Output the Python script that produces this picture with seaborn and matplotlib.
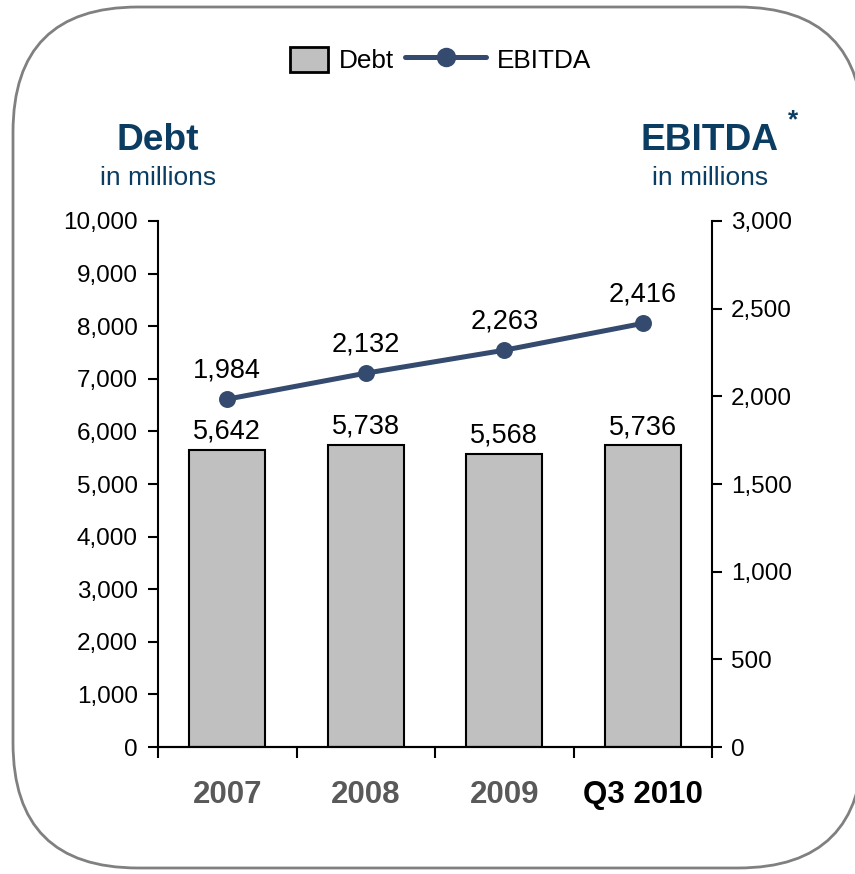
import matplotlib.pyplot as plt
import seaborn as sns
import pandas as pd
from matplotlib.patches import FancyBboxPatch, Patch, Rectangle
from matplotlib.lines import Line2D
from matplotlib.legend_handler import HandlerPatch
from matplotlib.transforms import IdentityTransform
from matplotlib.ticker import FuncFormatter, MultipleLocator

# Данные
categories = ["2007", "2008", "2009", "Q3 2010"]
debt = [5642, 5738, 5568, 5736]
ebitda = [1984, 2132, 2263, 2416]

df = pd.DataFrame({"period": categories, "debt": debt, "ebitda": ebitda})

# Стиль
sns.set_theme(style="white")
plt.rcParams["font.family"] = ["Liberation Sans", "DejaVu Sans"]

BAR_COLOR = "#c0c0c0"
LINE_COLOR = "#344a6e"
TITLE_COLOR = "#0b3d63"

W, H = 855, 874
fig = plt.figure(figsize=(W / 100, H / 100), dpi=100)

# Рамка со скруглёнными углами, в пикселях (начало координат внизу слева)
box = FancyBboxPatch(
    (13, H - 868), 850, 861,
    boxstyle="round,pad=0,rounding_size=125",
    transform=IdentityTransform(), facecolor="white", edgecolor="#808080",
    linewidth=2, zorder=-1,
)
fig.patches.append(box)

ax = fig.add_axes([158 / W, 1 - 747 / H, (712 - 158) / W, (747 - 221) / H])
ax.patch.set_alpha(0)

# Столбцы — долг
sns.barplot(data=df, x="period", y="debt", ax=ax, color=BAR_COLOR,
            width=0.55, edgecolor="black", linewidth=1.5, saturation=1)
ax.set_ylim(0, 10000)
ax.set_xlim(-0.5, 3.5)
ax.yaxis.set_major_locator(MultipleLocator(1000))
ax.yaxis.set_major_formatter(FuncFormatter(lambda v, p: f"{v:,.0f}"))
ax.set_xlabel("")
ax.set_ylabel("")

for i, v in enumerate(debt):
    ax.text(i, v + 100, f"{v:,}", ha="center", va="bottom", fontsize=19.5, color="black")

# Линия — EBITDA
ax2 = ax.twinx()
sns.pointplot(data=df, x="period", y="ebitda", ax=ax2, color=LINE_COLOR,
              markers="o", markersize=9.5, linewidth=3.6)
ax2.set_ylim(0, 3000)
ax2.set_xlim(-0.5, 3.5)
ax2.yaxis.set_major_locator(MultipleLocator(500))
ax2.yaxis.set_major_formatter(FuncFormatter(lambda v, p: f"{v:,.0f}"))
ax2.set_ylabel("")
ax2.set_xlabel("")
for i, v in enumerate(ebitda):
    ax2.text(i, v + 90, f"{v:,}", ha="center", va="bottom", fontsize=19.5, color="black")

# Оси
for a in (ax, ax2):
    a.spines["top"].set_visible(False)
    for s in ("left", "right", "bottom"):
        a.spines[s].set_color("black")
        a.spines[s].set_linewidth(1.5)
ax.spines["right"].set_visible(False)
ax2.spines["left"].set_visible(False)

ax.tick_params(axis="y", direction="out", length=7.5, width=1.5, color="black",
               labelsize=17.5, labelcolor="black", pad=7, left=True)
ax2.tick_params(axis="y", direction="out", length=7.5, width=1.5, color="black",
                labelsize=17.5, labelcolor="black", pad=6, right=True)

# Категории: засечки на границах, подписи по центру
ax.set_xticks([-0.5, 0.5, 1.5, 2.5, 3.5], minor=False)
ax.set_xticklabels([])
ax.tick_params(axis="x", which="major", direction="out", length=8, width=1.5,
               color="black", bottom=True)
ax.set_xticks(range(len(categories)), minor=True)
ax.set_xticklabels(categories, minor=True)
ax.tick_params(axis="x", which="minor", length=0, pad=24, labelsize=22.5)
for lbl in ax.get_xticklabels(minor=True):
    lbl.set_fontweight("bold")
    lbl.set_color("#595959")
ax.get_xticklabels(minor=True)[-1].set_color("black")
ax2.tick_params(axis="x", bottom=False, labelbottom=False)

# Заголовки осей
fig.text(158 / W, 1 - 140 / H, "Debt", ha="center", va="center",
         fontsize=26.7, fontweight="bold", color=TITLE_COLOR)
fig.text(158 / W, 1 - 178 / H, "in millions", ha="center", va="center",
         fontsize=19, color=TITLE_COLOR)
fig.text(709.5 / W, 1 - 140 / H, "EBITDA", ha="center", va="center",
         fontsize=26.7, fontweight="bold", color=TITLE_COLOR)
fig.text(793 / W, 1 - 120 / H, "*", ha="center", va="center",
         fontsize=19, fontweight="bold", color=TITLE_COLOR)
fig.text(710 / W, 1 - 178 / H, "in millions", ha="center", va="center",
         fontsize=19, color=TITLE_COLOR)


# Легенда: прямоугольник Debt короче линии EBITDA
def small_box(legend, orig_handle, xdescent, ydescent, width, height, fontsize):
    w = 38.0 / 80.0 * width
    return Rectangle((width - w - xdescent, -ydescent), w, height)


handles = [
    Patch(facecolor=BAR_COLOR, edgecolor="black", linewidth=2, label="Debt"),
    Line2D([0], [0], color=LINE_COLOR, linewidth=3.6, marker="o", markersize=13,
           label="EBITDA"),
]
fig.legend(handles=handles, loc="center", bbox_to_anchor=(419 / W, 1 - 60 / H),
           ncol=2, frameon=False, fontsize=18.8, handlelength=3.1, handleheight=1.1,
           columnspacing=0.45, handletextpad=0.4, labelcolor="black",
           handler_map={Patch: HandlerPatch(patch_func=small_box)})

fig.savefig("out.png", dpi=100)
plt.close(fig)
